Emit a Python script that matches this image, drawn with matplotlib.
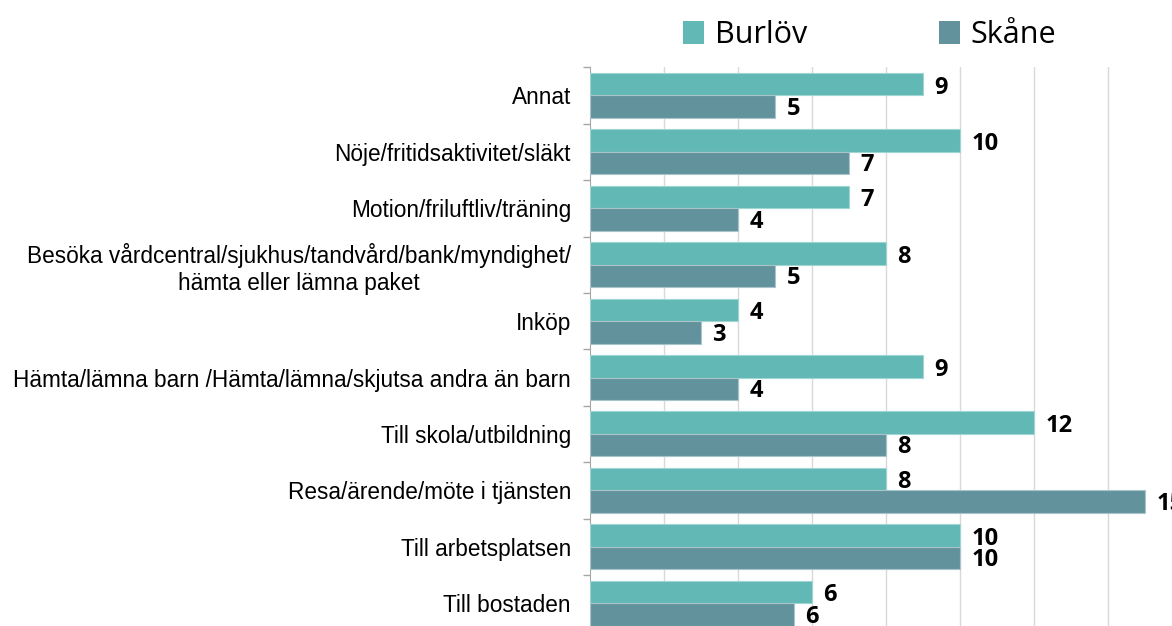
import matplotlib
matplotlib.use('Agg')
import matplotlib.pyplot as plt
from matplotlib.patches import Patch
import numpy as np

# categories listed from bottom to top
categories = ['Till bostaden', 'Till arbetsplatsen', 'Resa/ärende/möte i tjänsten',
              'Till skola/utbildning', 'Hämta/lämna barn /Hämta/lämna/skjutsa andra än barn',
              'Inköp', 'Besöka vårdcentral/sjukhus/tandvård/bank/myndighet/\nhämta eller lämna paket',
              'Motion/friluftliv/träning', 'Nöje/fritidsaktivitet/släkt', 'Annat']
burlov = [6, 10, 8, 12, 9, 4, 8, 7, 10, 9]
skane = [5.5, 10, 15, 8, 4, 3, 5, 4, 7, 5]
series_names = ['Burlöv', 'Skåne']

c_burlov = '#62b8b4'
c_skane = '#62939d'

my_dpi = 100
fig = plt.figure(figsize=(1172/my_dpi, 626/my_dpi), dpi=my_dpi)
ax = fig.add_axes([0.5037, -0.0085, 1 - 0.5037, 0.901])

y = np.arange(len(categories))
h = 0.4
ax.barh(y + h/2, burlov, height=h, color=c_burlov, edgecolor='#9fd6d3', linewidth=0.8, zorder=3)
ax.barh(y - h/2, skane, height=h, color=c_skane, edgecolor='#a9c4ca', linewidth=0.8, zorder=3)

lbl_font = dict(family=['Open Sans', 'DejaVu Sans'], fontweight='bold', fontsize=17)
for i in range(len(categories)):
    ax.text(burlov[i] + 0.3, y[i] + h/2 - 0.06, '%.0f' % burlov[i], va='center', ha='left',
            clip_on=False, **lbl_font)
    ax.text(skane[i] + 0.3, y[i] - h/2 - 0.04, '%.0f' % skane[i], va='center', ha='left',
            clip_on=False, **lbl_font)

ax.set_xlim(0, 15.72)
ax.set_ylim(-0.5, len(categories) - 0.5)

ax.set_xticks(np.arange(2, 16, 2))
ax.tick_params(axis='x', length=0, labelbottom=False)
ax.grid(axis='x', color='#d9d9d9', linewidth=1, zorder=0)

ax.set_yticks(np.arange(-0.5, len(categories), 1))
ax.set_yticklabels([])
ax.set_yticks(y, minor=True)
ax.set_yticklabels(categories, minor=True, family=['Liberation Sans', 'DejaVu Sans'],
                   fontsize=16.3, multialignment='center')
ax.tick_params(axis='y', which='major', length=5, color='#a6a6a6', width=1)
ax.tick_params(axis='y', which='minor', length=0, pad=14)

for s in ['top', 'right', 'bottom']:
    ax.spines[s].set_visible(False)
ax.spines['left'].set_color('#a6a6a6')

handles = [Patch(facecolor=c_burlov, edgecolor='none'), Patch(facecolor=c_skane, edgecolor='none')]
fig.legend(handles, series_names, loc='center', bbox_to_anchor=(0.742, 0.944), ncol=2,
           frameon=False, prop={'family': ['Open Sans', 'DejaVu Sans'], 'size': 22},
           handlelength=0.7, handleheight=0.75, handletextpad=0.35, columnspacing=4.3)

plt.savefig('out.png', dpi=my_dpi)
